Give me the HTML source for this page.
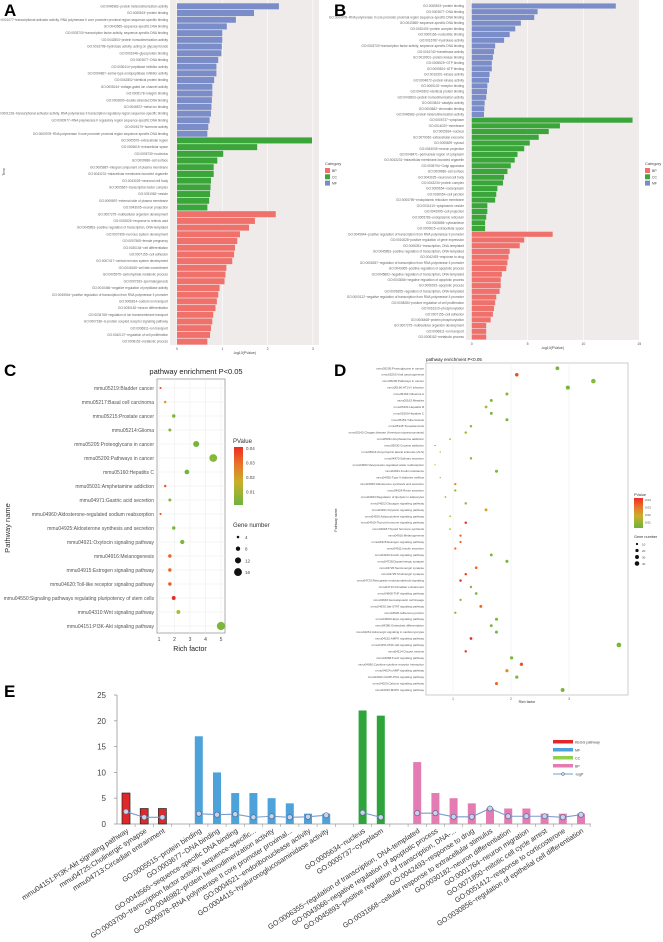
<!DOCTYPE html>
<html><head><meta charset="utf-8">
<style>
html,body{margin:0;padding:0;background:#fff;}
svg{display:block;font-family:"Liberation Sans",Arial,sans-serif;}
</style></head>
<body>
<svg id="fig" width="663" height="942" viewBox="0 0 663 942" xmlns="http://www.w3.org/2000/svg">
<defs>
<linearGradient id="pgrad" x1="0" y1="0" x2="0" y2="1">
<stop offset="0" stop-color="#ee2b22"/><stop offset="0.3" stop-color="#e8752a"/><stop offset="0.6" stop-color="#c8b02a"/><stop offset="1" stop-color="#6db33f"/>
</linearGradient>
</defs>
<text x="4" y="16" font-size="17" font-weight="bold" fill="#000">A</text>
<text x="334" y="16" font-size="17" font-weight="bold" fill="#000">B</text>
<text x="4" y="376" font-size="17" font-weight="bold" fill="#000">C</text>
<text x="334" y="376" font-size="17" font-weight="bold" fill="#000">D</text>
<text x="4" y="697" font-size="17" font-weight="bold" fill="#000">E</text>
<g id="gA"></g>
<g id="gB"></g>
<g id="gC"></g>
<g id="gD"></g>
<g id="gE"></g>
</svg>
<script>
// ---------- Panel A data ----------
const aLabels = ["GO:0046982~protein heterodimerization activity","GO:0005515~protein binding","GO:0001077~transcriptional activator activity, RNA polymerase II core promoter proximal region sequence-specific binding","GO:0043565~sequence-specific DNA binding","GO:0003700~transcription factor activity, sequence-specific DNA binding","GO:0042803~protein homodimerization activity","GO:0016798~hydrolase activity, acting on glycosyl bonds","GO:0001948~glycoprotein binding","GO:0003677~DNA binding","GO:0030414~peptidase inhibitor activity","GO:0004867~serine-type endopeptidase inhibitor activity","GO:0042802~identical protein binding","GO:0005244~voltage-gated ion channel activity","GO:0005178~integrin binding","GO:0003690~double-stranded DNA binding","GO:0046872~metal ion binding","GO:0001228~transcriptional activator activity, RNA polymerase II transcription regulatory region sequence-specific binding","GO:0000977~RNA polymerase II regulatory region sequence-specific DNA binding","GO:0005179~hormone activity","GO:0000978~RNA polymerase II core promoter proximal region sequence-specific DNA binding",
"GO:0005576~extracellular region","GO:0005615~extracellular space","GO:0005730~nucleolus","GO:0009986~cell surface","GO:0005887~integral component of plasma membrane","GO:0043231~intracellular membrane-bounded organelle","GO:0043025~neuronal cell body","GO:0005667~transcription factor complex","GO:0031982~vesicle","GO:0009897~external side of plasma membrane","GO:0043005~neuron projection",
"GO:0007275~multicellular organism development","GO:0032526~response to retinoic acid","GO:0045893~positive regulation of transcription, DNA-templated","GO:0007399~nervous system development","GO:0007565~female pregnancy","GO:0030154~cell differentiation","GO:0007155~cell adhesion","GO:0007417~central nervous system development","GO:0045165~cell fate commitment","GO:0005975~carbohydrate metabolic process","GO:0007283~spermatogenesis","GO:0010466~negative regulation of peptidase activity","GO:0045944~positive regulation of transcription from RNA polymerase II promoter","GO:0006814~sodium ion transport","GO:0030182~neuron differentiation","GO:0034765~regulation of ion transmembrane transport","GO:0007186~G-protein coupled receptor signaling pathway","GO:0006811~ion transport","GO:0042127~regulation of cell proliferation","GO:0008152~metabolic process"];
const aCats = ["MF","MF","MF","MF","MF","MF","MF","MF","MF","MF","MF","MF","MF","MF","MF","MF","MF","MF","MF","MF","CC","CC","CC","CC","CC","CC","CC","CC","CC","CC","CC","BP","BP","BP","BP","BP","BP","BP","BP","BP","BP","BP","BP","BP","BP","BP","BP","BP","BP","BP","BP"];
const aValues = [2.25,1.70,1.30,1.10,1.00,1.00,0.99,0.98,0.91,0.87,0.87,0.82,0.78,0.78,0.77,0.76,0.75,0.72,0.69,0.67,
2.98,1.77,1.02,0.89,0.81,0.81,0.75,0.74,0.73,0.71,0.67,
2.18,1.72,1.59,1.39,1.33,1.28,1.26,1.22,1.09,1.07,1.05,0.94,0.91,0.88,0.85,0.80,0.78,0.75,0.73,0.67];
const aTicks = [0,1,2,3];
// ---------- Panel B data ----------
const bLabels = ["GO:0005515~protein binding","GO:0003677~DNA binding","GO:0000978~RNA polymerase II core promoter proximal region sequence-specific DNA binding","GO:0043565~sequence-specific DNA binding","GO:0032403~protein complex binding","GO:0000166~nucleotide binding","GO:0016787~hydrolase activity","GO:0003700~transcription factor activity, sequence-specific DNA binding","GO:0016740~transferase activity","GO:0019901~protein kinase binding","GO:0005525~GTP binding","GO:0005524~ATP binding","GO:0016301~kinase activity","GO:0004672~protein kinase activity","GO:0005102~receptor binding","GO:0042802~identical protein binding","GO:0042803~protein homodimerization activity","GO:0003824~catalytic activity","GO:0003682~chromatin binding","GO:0046982~protein heterodimerization activity",
"GO:0005737~cytoplasm","GO:0016020~membrane","GO:0005634~nucleus","GO:0070062~extracellular exosome","GO:0005829~cytosol","GO:0043005~neuron projection","GO:0048471~perinuclear region of cytoplasm","GO:0043231~intracellular membrane-bounded organelle","GO:0005794~Golgi apparatus","GO:0009986~cell surface","GO:0043025~neuronal cell body","GO:0043234~protein complex","GO:0005654~nucleoplasm","GO:0030054~cell junction","GO:0005789~endoplasmic reticulum membrane","GO:0031410~cytoplasmic vesicle","GO:0042995~cell projection","GO:0005783~endoplasmic reticulum","GO:0005856~cytoskeleton","GO:0005615~extracellular space",
"GO:0045944~positive regulation of transcription from RNA polymerase II promoter","GO:0010628~positive regulation of gene expression","GO:0006351~transcription, DNA-templated","GO:0045893~positive regulation of transcription, DNA-templated","GO:0042493~response to drug","GO:0006357~regulation of transcription from RNA polymerase II promoter","GO:0043065~positive regulation of apoptotic process","GO:0045892~negative regulation of transcription, DNA-templated","GO:0043066~negative regulation of apoptotic process","GO:0006915~apoptotic process","GO:0006355~regulation of transcription, DNA-templated","GO:0000122~negative regulation of transcription from RNA polymerase II promoter","GO:0008284~positive regulation of cell proliferation","GO:0016310~phosphorylation","GO:0007155~cell adhesion","GO:0006468~protein phosphorylation","GO:0007275~multicellular organism development","GO:0006811~ion transport","GO:0008152~metabolic process"];
const bCats = ["MF","MF","MF","MF","MF","MF","MF","MF","MF","MF","MF","MF","MF","MF","MF","MF","MF","MF","MF","MF","CC","CC","CC","CC","CC","CC","CC","CC","CC","CC","CC","CC","CC","CC","CC","CC","CC","CC","CC","CC","BP","BP","BP","BP","BP","BP","BP","BP","BP","BP","BP","BP","BP","BP","BP","BP","BP","BP","BP"];
const bValues = [12.9,5.9,5.6,4.4,3.9,3.4,2.9,2.1,2.0,1.9,1.8,1.8,1.6,1.55,1.4,1.37,1.3,1.16,1.13,1.1,
14.4,7.9,6.9,6.0,5.2,4.7,4.1,3.85,3.5,3.2,2.9,2.8,2.3,2.2,2.1,1.4,1.4,1.3,1.2,1.2,
7.25,4.7,4.3,3.4,3.3,3.2,3.1,2.7,2.6,2.6,2.5,2.2,2.1,2.0,1.9,1.7,1.3,1.3,1.3];
const bTicks = [0,5,10,15];
// ---------- Panel C data ----------
const cLabels = ["mmu05219:Bladder cancer","mmu05217:Basal cell carcinoma","mmu05215:Prostate cancer","mmu05214:Glioma","mmu05205:Proteoglycans in cancer","mmu05200:Pathways in cancer","mmu05160:Hepatitis C","mmu05031:Amphetamine addiction","mmu04971:Gastric acid secretion","mmu04960:Aldosterone-regulated sodium reabsorption","mmu04925:Aldosterone synthesis and secretion","mmu04921:Oxytocin signaling pathway","mmu04916:Melanogenesis","mmu04915:Estrogen signaling pathway","mmu04620:Toll-like receptor signaling pathway","mmu04550:Signaling pathways regulating pluripotency of stem cells","mmu04310:Wnt signaling pathway","mmu04151:PI3K-Akt signaling pathway"];
const cRich = [1.1,1.4,1.95,1.7,3.4,4.5,2.8,1.4,1.7,1.1,1.95,2.5,1.7,1.7,1.7,1.95,2.25,5.0];
const cPval = [0.040,0.025,0.006,0.008,0.005,0.008,0.004,0.036,0.008,0.040,0.006,0.006,0.036,0.036,0.037,0.045,0.016,0.006];
const cCount = [3,4,6,5,12,16,9,4,5,3,6,8,6,6,6,7,7,17];
const cTicks = [1,2,3,4,5];
// ---------- Panel D data ----------
const dLabels = ["mmu05205:Proteoglycans in cancer","mmu05203:Viral carcinogenesis","mmu05200:Pathways in cancer","mmu05166:HTLV-I infection","mmu05164:Influenza A","mmu05162:Measles","mmu05161:Hepatitis B","mmu05160:Hepatitis C","mmu05152:Tuberculosis","mmu05145:Toxoplasmosis","mmu05142:Chagas disease (American trypanosomiasis)","mmu05031:Amphetamine addiction","mmu05030:Cocaine addiction","mmu05014:Amyotrophic lateral sclerosis (ALS)","mmu04970:Salivary secretion","mmu04962:Vasopressin-regulated water reabsorption","mmu04931:Insulin resistance","mmu04930:Type II diabetes mellitus","mmu04925:Aldosterone synthesis and secretion","mmu04924:Renin secretion","mmu04923:Regulation of lipolysis in adipocytes","mmu04922:Glucagon signaling pathway","mmu04921:Oxytocin signaling pathway","mmu04920:Adipocytokine signaling pathway","mmu04919:Thyroid hormone signaling pathway","mmu04918:Thyroid hormone synthesis","mmu04916:Melanogenesis","mmu04915:Estrogen signaling pathway","mmu04911:Insulin secretion","mmu04910:Insulin signaling pathway","mmu04728:Dopaminergic synapse","mmu04726:Serotonergic synapse","mmu04725:Cholinergic synapse","mmu04723:Retrograde endocannabinoid signaling","mmu04713:Circadian entrainment","mmu04668:TNF signaling pathway","mmu04640:Hematopoietic cell lineage","mmu04630:Jak-STAT signaling pathway","mmu04520:Adherens junction","mmu04390:Hippo signaling pathway","mmu04380:Osteoclast differentiation","mmu04261:Adrenergic signaling in cardiomyocytes","mmu04152:AMPK signaling pathway","mmu04151:PI3K-Akt signaling pathway","mmu04114:Oocyte meiosis","mmu04068:FoxO signaling pathway","mmu04060:Cytokine-cytokine receptor interaction","mmu04024:cAMP signaling pathway","mmu04022:cGMP-PKG signaling pathway","mmu04020:Calcium signaling pathway","mmu04010:MAPK signaling pathway"];
const dRich = [2.80,2.10,3.42,2.98,1.93,1.66,1.57,1.66,1.93,1.31,1.22,0.95,0.69,0.78,1.31,0.69,1.75,0.78,1.04,1.04,0.87,1.22,1.57,0.95,1.22,0.95,1.13,1.13,1.04,1.66,1.93,1.40,1.22,1.13,1.31,1.40,1.13,1.48,1.04,1.75,1.66,1.75,1.31,3.86,1.22,2.01,2.18,1.93,2.10,1.75,2.89];
const dPval = [0.005,0.040,0.008,0.005,0.008,0.006,0.015,0.006,0.006,0.008,0.012,0.012,0.040,0.020,0.008,0.020,0.006,0.015,0.030,0.008,0.010,0.010,0.025,0.020,0.045,0.015,0.035,0.035,0.035,0.006,0.006,0.035,0.042,0.045,0.008,0.008,0.008,0.035,0.008,0.006,0.006,0.006,0.048,0.006,0.042,0.006,0.038,0.028,0.006,0.035,0.006];
const dCount = [28,24,40,32,18,16,16,16,18,12,12,6,3,4,12,3,18,4,10,10,6,12,16,6,12,6,10,10,10,16,18,14,12,12,12,14,10,16,10,18,16,18,14,42,12,20,22,20,20,18,30];
const dTicks = [1,2,3];
// ---------- Panel E data ----------
const eLabels = ["mmu04151:PI3K-Akt signaling pathway","mmu04725:Cholinergic synapse","mmu04713:Circadian entrainment","","GO:0005515~protein binding","GO:0003677~DNA binding","GO:0043565~sequence-specific DNA binding","GO:0003700~transcription factor activity, sequence-specific...","GO:0046982~protein heterodimerization activity","GO:0000978~RNA polymerase II core promoter proximal...","GO:0004521~endoribonuclease activity","GO:0004415~hyaluronoglucosaminidase activity","","GO:0005634~nucleus","GO:0005737~cytoplasm","","GO:0006355~regulation of transcription, DNA-templated","GO:0043066~negative regulation of apoptotic process","GO:0045893~positive regulation of transcription, DNA-...","GO:0042493~response to drug","GO:0031668~cellular response to extracellular stimulus","GO:0030182~neuron differentiation","GO:0001764~neuron migration","GO:0071850~mitotic cell cycle arrest","GO:0051412~response to corticosterone","GO:0030856~regulation of epithelial cell differentiation"];
const eGroups = ["KEGG","KEGG","KEGG","","MF","MF","MF","MF","MF","MF","MF","MF","","CC","CC","","BP","BP","BP","BP","BP","BP","BP","BP","BP","BP"];
const eCounts = [6,3,3,null,17,10,6,6,5,4,2,2,null,22,21,null,12,6,5,4,3,3,3,2,2,2];
const eLogP = [2.4,1.3,1.3,null,2.0,1.8,1.9,1.3,1.5,1.3,1.4,1.7,null,2.2,1.3,null,2.1,2.1,1.4,1.4,3.0,1.5,1.5,1.5,1.3,1.8];
const eTicks = [0,5,10,15,20,25];

const NS = "http://www.w3.org/2000/svg";
function mk(tag, attrs, parent, txt){
  const el = document.createElementNS(NS, tag);
  for (const k in attrs) el.setAttribute(k, attrs[k]);
  if (txt !== undefined) el.textContent = txt;
  parent.appendChild(el);
  return el;
}
const catColor = {MF:"#7b8dc8", CC:"#3aa63a", BP:"#f0716b"};

// ---------- horizontal bar panels (A, B) ----------
function barPanel(g, labels, cats, values, ticks, cfg, prefix){
  const xs = v => cfg.x0 + v*cfg.k;
  const bg = mk("rect",{x:cfg.bgx,y:cfg.top,width:cfg.bgw,height:cfg.bottom-cfg.top,fill:"#efebeb"},g);
  
  
  ticks.forEach(t=>{
    const gl = mk("line",{x1:xs(t),x2:xs(t),y1:cfg.top,y2:cfg.bottom,stroke:"#fff","stroke-width":0.6},g);
    
    
    const tl = mk("text",{x:xs(t),y:cfg.bottom+5,"font-size":3.5,"text-anchor":"middle",fill:"#555"},g,String(t));
    
    
  });
  const n = labels.length;
  const step = (cfg.last-cfg.first)/(n-1);
  labels.forEach((lab,i)=>{
    const y = cfg.first + i*step;
    const b = mk("rect",{x:xs(0),y:y-step*0.45,width:Math.max(0,xs(values[i])-xs(0)),height:step*0.9,fill:catColor[cats[i]]},g);
    
    
    const t = mk("text",{x:cfg.bgx-2,y:y+1.1,"font-size":3.2,"text-anchor":"end",fill:"#666"},g,lab);
    
    
  });
  const at = mk("text",{x:(cfg.bgx+cfg.bgx+cfg.bgw)/2,y:cfg.bottom+9,"font-size":3.5,"text-anchor":"middle",fill:"#444"},g,"-log10(PValue)");
  
  
  const lt = mk("text",{x:cfg.legx,y:165,"font-size":4,fill:"#444"},g,"Category");
  
  
  ["BP","CC","MF"].forEach((c,j)=>{
    const s = mk("rect",{x:cfg.legx,y:168+j*6.3,width:5,height:5,fill:catColor[c]},g);
    
    
    const tx = mk("text",{x:cfg.legx+7,y:172+j*6.3,"font-size":3.5,fill:"#444"},g,c);
    
    
  });
}
barPanel(document.getElementById("gA"), aLabels, aCats, aValues, aTicks,
  {x0:177,k:45.3,bgx:170,bgw:149,top:0,bottom:345,first:6.3,last:341.6,legx:325},"a");
const termT = mk("text",{x:0,y:0,"font-size":3.5,fill:"#444",transform:"translate(5,172) rotate(-90)","text-anchor":"middle"},document.getElementById("gA"),"Term");


barPanel(document.getElementById("gB"), bLabels, bCats, bValues, bTicks,
  {x0:471.7,k:11.17,bgx:466,bgw:173,top:0,bottom:340,first:6,last:337,legx:645},"b");

// ---------- colour scale ----------
const pStops = [0.003,0.015,0.025,0.035,0.045];
const cStops = [[109,179,63],[168,192,48],[217,160,32],[234,106,36],[238,43,34]];
function pColor(p){
  if (p<=pStops[0]) return "rgb("+cStops[0]+")";
  for (let i=1;i<pStops.length;i++){
    if (p<=pStops[i]){
      const f=(p-pStops[i-1])/(pStops[i]-pStops[i-1]);
      const c=cStops[i-1].map((v,j)=>Math.round(v+(cStops[i][j]-v)*f));
      return "rgb("+c+")";
    }
  }
  return "rgb("+cStops[4]+")";
}

// ---------- Panel C ----------
(function(){
  const g = document.getElementById("gC");
  const L=157,R=225,T=379,B=633;
  const xs = v => 159 + (v-1)*15.5;
  const y0=388, step=(626-388)/(cLabels.length-1);
  const ttl = mk("text",{x:196,y:374,"font-size":7.5,"text-anchor":"middle",fill:"#222"},g,"pathway enrichment P<0.05");
  
  
  const fr = mk("rect",{x:L,y:T,width:R-L,height:B-T,fill:"#fff",stroke:"#999","stroke-width":0.8},g);
  
  
  cTicks.forEach(t=>{
    const gl = mk("line",{x1:xs(t),x2:xs(t),y1:T,y2:B,stroke:"#eee","stroke-width":0.6},g);
    
    
    const tl = mk("text",{x:xs(t),y:B+8,"font-size":5,"text-anchor":"middle",fill:"#444"},g,String(t));
    
    
  });
  cLabels.forEach((lab,i)=>{
    const y=y0+i*step;
    const gl = mk("line",{x1:L,x2:R,y1:y,y2:y,stroke:"#eee","stroke-width":0.6},g);
    
    
    const t = mk("text",{x:L-3,y:y+1.8,"font-size":5,"text-anchor":"end",fill:"#555"},g,lab);
    
    
  });
  cLabels.forEach((lab,i)=>{
    const d = mk("circle",{cx:xs(cRich[i]),cy:y0+i*step,r:0.22*cCount[i]+0.4,fill:pColor(cPval[i])},g);
    
    
  });
  const xt = mk("text",{x:190,y:651,"font-size":7,"text-anchor":"middle",fill:"#222"},g,"Rich factor");
  
  
  const yt = mk("text",{x:0,y:0,"font-size":7.5,"text-anchor":"middle",fill:"#333",transform:"translate(10,528) rotate(-90)"},g,"Pathway name");
  
  
  const lt = mk("text",{x:233,y:443,"font-size":6,fill:"#333"},g,"PValue");
  
  
  const bar = mk("rect",{x:234,y:447,width:9,height:58,fill:"url(#pgrad)"},g);
  
  
  ["0.04","0.03","0.02","0.01"].forEach((s,j)=>{
    const tx = mk("text",{x:246,y:450+j*14.5,"font-size":4.5,fill:"#444"},g,s);
    
    
  });
  const gt = mk("text",{x:233,y:527,"font-size":6,fill:"#333"},g,"Gene number");
  
  
  [4,8,12,16].forEach((n,j)=>{
    const c = mk("circle",{cx:238,cy:537+j*11.7,r:0.22*n+0.4,fill:"#111"},g);
    
    
    const tx = mk("text",{x:245,y:539+j*11.7,"font-size":4.5,fill:"#444"},g,String(n));
    
    
  });
})();

// ---------- Panel D ----------
(function(){
  const g = document.getElementById("gD");
  const L=426,R=628,T=363,B=695;
  const xs = v => 453 + (v-1)*58;
  const y0=368.3, step=(690-368.3)/(dLabels.length-1);
  const ttl = mk("text",{x:426,y:361,"font-size":4.5,fill:"#222"},g,"pathway enrichment P<0.05");
  
  
  const fr = mk("rect",{x:L,y:T,width:R-L,height:B-T,fill:"#fff",stroke:"#aaa","stroke-width":0.6},g);
  
  
  dTicks.forEach(t=>{
    const gl = mk("line",{x1:xs(t),x2:xs(t),y1:T,y2:B,stroke:"#f0f0f0","stroke-width":0.6},g);
    
    
    const tl = mk("text",{x:xs(t),y:B+5,"font-size":3.2,"text-anchor":"middle",fill:"#555"},g,String(t));
    
    
  });
  dLabels.forEach((lab,i)=>{
    const y=y0+i*step;
    const t = mk("text",{x:L-2,y:y+1,"font-size":3,"text-anchor":"end",fill:"#555"},g,lab);
    
    
  });
  dLabels.forEach((lab,i)=>{
    const d = mk("circle",{cx:xs(dRich[i]),cy:y0+i*step,r:0.36*Math.sqrt(dCount[i]),fill:pColor(dPval[i])},g);
    
    
  });
  const xt = mk("text",{x:527,y:703,"font-size":3.5,"text-anchor":"middle",fill:"#333"},g,"Rich factor");
  
  
  const yt = mk("text",{x:0,y:0,"font-size":3.5,"text-anchor":"middle",fill:"#333",transform:"translate(337,520) rotate(-90)"},g,"Pathway name");
  
  
  const lt = mk("text",{x:634,y:496,"font-size":3.8,fill:"#333"},g,"PValue");
  
  
  const bar = mk("rect",{x:634,y:498,width:9,height:30,fill:"url(#pgrad)"},g);
  
  
  ["0.04","0.03","0.02","0.01"].forEach((s,j)=>{
    const tx = mk("text",{x:645,y:501+j*7.5,"font-size":3,fill:"#444"},g,s);
    
    
  });
  const gt = mk("text",{x:634,y:538,"font-size":3.8,fill:"#333"},g,"Gene number");
  
  
  [10,20,30,40].forEach((n,j)=>{
    const c = mk("circle",{cx:637,cy:544+j*6.5,r:0.36*Math.sqrt(n),fill:"#111"},g);
    
    
    const tx = mk("text",{x:642,y:545.5+j*6.5,"font-size":3,fill:"#444"},g,String(n));
    
    
  });
})();

// ---------- Panel E ----------
(function(){
  const g = document.getElementById("gE");
  const y0=824, k=5.16, xL=117, xR=591;
  const ys = v => y0 - v*k;
  const xs = i => 126 + i*18.2;
  const gCol = {KEGG:"#e0282a",MF:"#4da3d9",CC:"#2ea43a",BP:"#e47bb3"};
  const ax = mk("line",{x1:117,x2:117,y1:ys(25),y2:y0,stroke:"#999","stroke-width":0.8},g);
  
  
  eTicks.forEach(t=>{
    const tk = mk("line",{x1:114,x2:117,y1:ys(t),y2:ys(t),stroke:"#999","stroke-width":0.8},g);
    
    
    const tl = mk("text",{x:106,y:ys(t)+3,"font-size":8,"text-anchor":"end",fill:"#444"},g,String(t));
    
    
  });
  const bx = mk("line",{x1:xL,x2:xR,y1:y0,y2:y0,stroke:"#999","stroke-width":0.8},g);
  
  
  eLabels.forEach((lab,i)=>{
    const tk = mk("line",{x1:xs(i)+9.1,x2:xs(i)+9.1,y1:y0,y2:y0+3,stroke:"#999","stroke-width":0.6},g);
    
    
    if (eCounts[i]!==null){
      const b = mk("rect",{x:xs(i)-4,y:ys(eCounts[i]),width:8,height:eCounts[i]*k,fill:gCol[eGroups[i]],stroke:eGroups[i]==="KEGG"?"#222":"none","stroke-width":0.7},g);
      
      
    }
    if (lab){
      const t = mk("text",{x:0,y:0,"font-size":7.2,"text-anchor":"end",fill:"#333",transform:"translate("+(xs(i)+3)+","+(y0+8)+") rotate(-33)"},g,lab);
      
      
    }
  });
  // logP line per group
  let seg=[];
  const flush=()=>{
    if (seg.length>1){
      const pl = mk("polyline",{points:seg.map(i=>xs(i)+","+ys(eLogP[i])).join(" "),fill:"none",stroke:"#7a9bd0","stroke-width":1.1},g);
      
      
    }
    seg=[];
  };
  eLogP.forEach((v,i)=>{ if(v===null) flush(); else seg.push(i); });
  flush();
  eLogP.forEach((v,i)=>{
    if (v===null) return;
    const m = mk("circle",{cx:xs(i),cy:ys(v),r:2.6,fill:"#c8d3e8",stroke:"#4a5f8a","stroke-width":0.6},g);
    
    
  });
  const leg=[["KEGG pathway","#e0282a"],["MF","#4da3d9"],["CC","#8fd14f"],["BP","#e47bb3"]];
  leg.forEach((l,j)=>{
    const s = mk("rect",{x:553,y:740+j*8,width:20,height:3.5,fill:l[1]},g);
    
    
    const t = mk("text",{x:575,y:743.5+j*8,"font-size":3.6,fill:"#444"},g,l[0]);
    
    
  });
  const ll = mk("line",{x1:553,x2:573,y1:774,y2:774,stroke:"#7a9bd0","stroke-width":1},g);
  
  
  const lm = mk("circle",{cx:563,cy:774,r:1.5,fill:"#c8d3e8",stroke:"#4a5f8a","stroke-width":0.5},g);
  
  
  const lt = mk("text",{x:575,y:775.5,"font-size":3.6,fill:"#444"},g,"-logP");
  
  
})();
</script>
</body></html>
